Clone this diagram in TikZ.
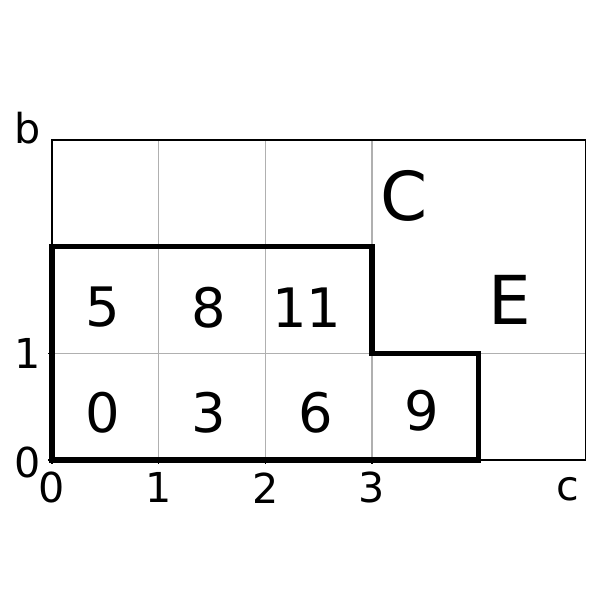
\documentclass[tikz,border=0pt]{standalone}
\usepackage{fontspec}
\setmainfont{DejaVu Sans}
\usepackage{xcolor}
\definecolor{gridGray}{RGB}{176, 176, 176}

\begin{document}
\begin{tikzpicture}[
        x=1cm, y=1cm,
        gridLine/.style={draw=gridGray, line width=0.27pt},
        frameLine/.style={draw=black, line width=0.4pt},
        regionLine/.style={draw=black, line width=1.35pt, line join=miter},
        tickLabel/.style={inner sep=0pt, font=\fontsize{11}{13}\selectfont},
        cellLabel/.style={inner sep=0pt, font=\fontsize{14.5}{17}\selectfont},
        setLabel/.style={inner sep=0pt, font=\fontsize{18}{21}\selectfont}
    ]
        \useasboundingbox (-0.4875,-1.3125) rectangle (5.1375,4.3125);

        % grid
        \foreach \gx in {1,2,3}
            \draw[gridLine] (\gx,0) -- (\gx,3);
        \draw[gridLine] (0,1) -- (5,1);

        % frame and ticks
        \draw[frameLine] (0,0) rectangle (5,3);
        \foreach \gx in {0,1,2,3}
            \draw[frameLine] (\gx,0) -- (\gx,-0.035);
        \foreach \gy in {0,1}
            \draw[frameLine] (0,\gy) -- (-0.035,\gy);

        % tick labels
        \node[tickLabel] (x0) at (0,-0.26) {0};
        \node[tickLabel] (x1) at (1,-0.26) {1};
        \node[tickLabel] (x2) at (2,-0.26) {2};
        \node[tickLabel] (x3) at (3,-0.26) {3};
        \node[tickLabel] (y0) at (-0.225,-0.02) {0};
        \node[tickLabel] (y1) at (-0.225,1) {1};
        \node[tickLabel] (bAxis) at (-0.225,3.11) {b};
        \node[tickLabel] (cAxis) at (4.84,-0.27) {c};

        % region boundary
        \draw[regionLine] (0,0) -- (4,0) -- (4,1) -- (3,1) -- (3,2) -- (0,2) -- cycle;

        % cell indices
        \node[cellLabel] (c5) at (0.48,1.43) {5};
        \node[cellLabel] (c8) at (1.47,1.43) {8};
        \node[cellLabel] (c11) at (2.39,1.43) {11};
        \node[cellLabel] (c0) at (0.48,0.44) {0};
        \node[cellLabel] (c3) at (1.47,0.44) {3};
        \node[cellLabel] (c6) at (2.47,0.44) {6};
        \node[cellLabel] (c9) at (3.47,0.46) {9};

        \node[setLabel] (setC) at (3.3,2.48) {C};
        \node[setLabel] (setE) at (4.29,1.5) {E};
    \end{tikzpicture}
\end{document}
